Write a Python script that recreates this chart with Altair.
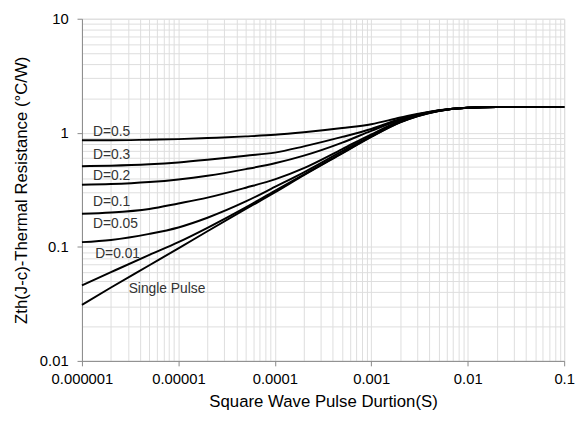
import altair as alt
import pandas as pd

# pulse duration (s)
t = [1e-6, 2e-6, 5e-6, 1e-5, 2e-5, 5e-5, 1e-4, 2e-4, 5e-4, 1e-3, 2e-3, 5e-3, 1e-2, 2e-2, 1e-1]

d05 = [0.86, 0.86, 0.87, 0.88, 0.90, 0.93, 0.96, 1.01, 1.10, 1.19, 1.36, 1.58, 1.66, 1.68, 1.68]
d03 = [0.51, 0.515, 0.53, 0.55, 0.58, 0.63, 0.67, 0.76, 0.92, 1.08, 1.32, 1.57, 1.66, 1.68, 1.68]
d02 = [0.35, 0.355, 0.37, 0.39, 0.42, 0.48, 0.54, 0.63, 0.82, 1.04, 1.30, 1.57, 1.66, 1.68, 1.68]
d01 = [0.195, 0.20, 0.215, 0.24, 0.27, 0.33, 0.39, 0.49, 0.72, 0.97, 1.27, 1.56, 1.66, 1.68, 1.68]
d005 = [0.11, 0.115, 0.13, 0.148, 0.18, 0.25, 0.335, 0.45, 0.69, 0.94, 1.25, 1.56, 1.66, 1.68, 1.68]
d001 = [0.046, 0.060, 0.085, 0.11, 0.147, 0.222, 0.31, 0.43, 0.665, 0.925, 1.24, 1.555, 1.66, 1.68, 1.68]
single = [0.031, 0.044, 0.069, 0.097, 0.137, 0.215, 0.30, 0.425, 0.66, 0.92, 1.235, 1.555, 1.66, 1.68, 1.68]

series_names = ["D=0.5", "D=0.3", "D=0.2", "D=0.1", "D=0.05", "D=0.01", "Single Pulse"]
series_vals = [d05, d03, d02, d01, d005, d001, single]

# curve labels
label_text = ["D=0.5", "D=0.3", "D=0.2", "D=0.1", "D=0.05", "D=0.01", "Single Pulse"]
label_x = [1.3e-6, 1.3e-6, 1.3e-6, 1.3e-6, 1.3e-6, 1.37e-6, 3.05e-6]
label_y = [1.02, 0.636, 0.42, 0.247, 0.157, 0.087, 0.0429]

x_ticks = [m * 10.0 ** e for e in range(-6, -1) for m in range(1, 10)] + [0.1]
y_ticks = [m * 10.0 ** e for e in range(-2, 1) for m in range(1, 10)] + [10.0]

rows = []
for name, vals in zip(series_names, series_vals):
    for xv, yv in zip(t, vals):
        rows.append({"t": xv, "z": yv, "series": name})
df = pd.DataFrame(rows)
lab = pd.DataFrame({"t": label_x, "z": label_y, "text": label_text})

is_decade = "abs(log(datum.value)/LN10 - round(log(datum.value)/LN10)) < 0.001"
label_expr = f"({is_decade}) ? format(datum.value, '~f') : ''"
tick_size = {"condition": {"test": is_decade, "value": 5}, "value": 0}

FONT = "Liberation Sans"

xscale = alt.Scale(type="log", domain=[1e-6, 0.1], nice=False)
yscale = alt.Scale(type="log", domain=[0.01, 10], nice=False)

xaxis = alt.Axis(values=x_ticks, labelExpr=label_expr, tickSize=tick_size,
                 labelOverlap=False, labelFlush=False, labelPadding=6,
                 title="Square Wave Pulse Durtion(S)", titlePadding=7,
                 titleFontSize=17, titleFontWeight="normal", labelFontSize=15,
                 grid=True)
yaxis = alt.Axis(values=y_ticks, labelExpr=label_expr, tickSize=tick_size,
                 labelOverlap=False, labelFlush=False, labelPadding=9,
                 title="Zth(J-c)-Thermal  Resistance (°C/W)", titlePadding=9,
                 titleFontSize=17, titleFontWeight="normal", labelFontSize=15,
                 grid=True)

lines = alt.Chart(df).mark_line(color="black", strokeWidth=2, interpolate="monotone").encode(
    x=alt.X("t:Q", scale=xscale, axis=xaxis),
    y=alt.Y("z:Q", scale=yscale, axis=yaxis),
    detail="series:N",
)

texts = alt.Chart(lab).mark_text(align="left", baseline="middle", fontSize=14,
                                 font=FONT, color="#333333").encode(
    x=alt.X("t:Q", scale=xscale),
    y=alt.Y("z:Q", scale=yscale),
    text="text:N",
)

chart = (lines + texts).properties(
    width=489, height=347,
    autosize=alt.AutoSizeParams(type="none"),
    padding={"left": 75, "top": 8, "right": 12, "bottom": 54},
).configure_view(stroke="black", strokeWidth=2).configure_axis(
    gridColor="#c4c4c4", gridWidth=2, domainColor="black", domainWidth=2,
    tickColor="black", tickWidth=1.5, labelColor="#333333", titleColor="#222222",
    labelFont=FONT, titleFont=FONT,
).configure(background="white")

chart.save("out.html", embed_options={"renderer": "svg", "actions": False})
